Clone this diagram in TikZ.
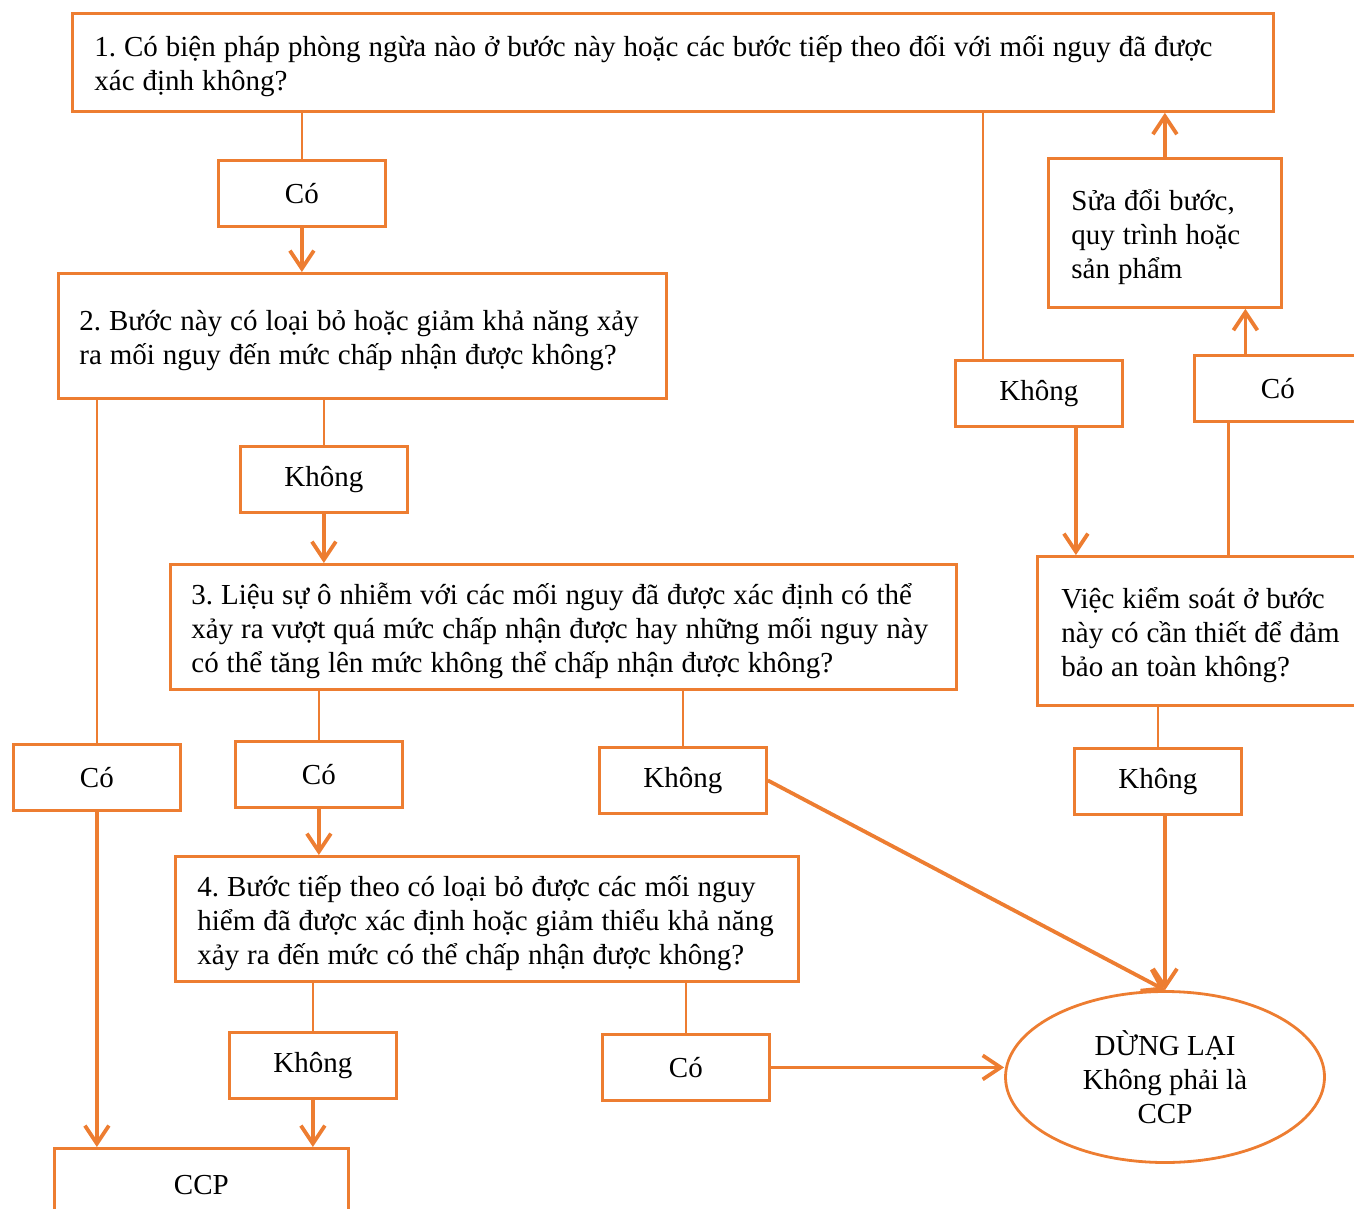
\documentclass[tikz,border=0pt]{standalone}
\usepackage{fontspec}
\setmainfont{Liberation Serif}
\usetikzlibrary{arrows.meta,shapes.geometric}
\definecolor{flow}{HTML}{ED7D31}

\begin{document}
\begin{tikzpicture}[x=0.5pt,y=-0.5pt,
  every node/.style={font=\fontsize{14.5}{17}\selectfont, text=black},
  qbox/.style={draw=flow, line width=1.4pt, anchor=north west, align=left, inner ysep=0pt,
               execute at begin node={\frenchspacing\spaceskip=0.275em plus 0.08em\relax}},
  two lines/.style={text height=11.5pt, text depth=16.9pt},
  three lines/.style={text height=11.5pt, text depth=33.9pt},
  lbl/.style={draw=flow, line width=1.4pt, anchor=north west, inner sep=0pt,
              minimum width=83.5pt, minimum height=33pt},
  link/.style={draw=flow, line width=1.2pt},
  arr/.style={draw=flow, line width=1.9pt, -{Straight Barb[length=9pt,width=12pt,line width=1.9pt]}}
  ]
\useasboundingbox (0,0) rectangle (1354,1209);
\clip (0,0) rectangle (1354,1209);

% question boxes
\node[qbox, two lines, minimum width=600.5pt, minimum height=49pt, inner xsep=11pt, text width=578.5pt] (b1) at (71,12)
  {\mbox{1. Có biện pháp phòng ngừa nào ở bước này hoặc các bước tiếp theo đối với mối nguy đã được}\\\mbox{xác định không?}};
\node[qbox, two lines, minimum width=304pt, minimum height=62.5pt, inner xsep=10.5pt, text width=283pt] (b2) at (57,272)
  {\mbox{2. Bước này có loại bỏ hoặc giảm khả năng xảy}\\\mbox{ra mối nguy đến mức chấp nhận được không?}};
\node[qbox, three lines, minimum width=393pt, minimum height=62.5pt, inner xsep=10.5pt, text width=372pt] (b3) at (169,563)
  {\mbox{3. Liệu sự ô nhiễm với các mối nguy đã được xác định có thể}\\\mbox{xảy ra vượt quá mức chấp nhận được hay những mối nguy này}\\\mbox{có thể tăng lên mức không thể chấp nhận được không?}};
\node[qbox, three lines, minimum width=311.5pt, minimum height=62.5pt, inner xsep=11pt, text width=289.5pt] (b4) at (174,855)
  {\mbox{4. Bước tiếp theo có loại bỏ được các mối nguy}\\\mbox{hiểm đã được xác định hoặc giảm thiểu khả năng}\\\mbox{xảy ra đến mức có thể chấp nhận được không?}};
\node[qbox, three lines, minimum width=116.5pt, minimum height=74.5pt, inner xsep=11.5pt, text width=93.5pt] (b5) at (1047,157)
  {\mbox{Sửa đổi bước,}\\\mbox{quy trình hoặc}\\\mbox{sản phẩm}};
\node[qbox, three lines, minimum width=163pt, minimum height=74.5pt, inner xsep=12pt, text width=139pt] (b6) at (1036,555)
  {\mbox{Việc kiểm soát ở bước}\\\mbox{này có cần thiết để đảm}\\\mbox{bảo an toàn không?}};

% answer boxes
\node[lbl] (c1) at (217,159) {Có};
\node[lbl] (k2) at (239,445) {Không};
\node[lbl] (c2) at (12,743) {Có};
\node[lbl] (c3) at (234,740) {Có};
\node[lbl] (k3) at (598,746) {Không};
\node[lbl] (k4b) at (228,1031) {Không};
\node[lbl] (c4) at (601,1033) {Có};
\node[lbl] (k4) at (954,359) {Không};
\node[lbl] (c6) at (1193,354) {Có};
\node[lbl] (k5) at (1073,747) {Không};

% outcomes
\node[lbl, minimum width=147pt, minimum height=36.5pt] (ccp) at (53,1147) {CCP};
\node[draw=flow, line width=1.4pt, ellipse, minimum width=159.5pt, minimum height=85.5pt,
      inner sep=0pt, align=center] (e) at (1165,1077) {DỪNG LẠI\\Không phải là\\CCP};

% left branch
\draw[link] (c1.north) -- (c1.north |- b1.south);
\draw[arr] (c1.south) -- (c1.south |- b2.north);
\draw[link] (k2.north) -- (k2.north |- b2.south);
\draw[arr] (k2.south) -- (k2.south |- b3.north);
\draw[link] (c2.north) -- (c2.north |- b2.south);
\draw[arr] (c2.south) -- (c2.south |- ccp.north);
\draw[link] (c3.north) -- (c3.north |- b3.south);
\draw[arr] (c3.south) -- (c3.south |- b4.north);
\draw[link] (k3.north) -- (k3.north |- b3.south);
\draw[arr] (k3.east) -- (e.north);
\draw[link] (k4b.north) -- (k4b.north |- b4.south);
\draw[arr] (k4b.south) -- (k4b.south |- ccp.north);
\draw[link] (c4.north) -- (c4.north |- b4.south);
\draw[arr] (c4.east) -- (c4.east -| e.west);

% right branch
\coordinate (k4t) at ([xshift=-28pt]k4.north);
\coordinate (k4d) at ([xshift=18.5pt]k4.south);
\coordinate (c6d) at ([xshift=-24.75pt]c6.south);
\coordinate (c6u) at ([xshift=-16.25pt]c6.north);
\draw[link] (k4t) -- (k4t |- b1.south);
\draw[arr] (k4d) -- (k4d |- b6.north);
\draw[link] (c6d) -- (c6d |- b6.north);
\draw[arr] (c6u) -- (c6u |- b5.south);
\draw[arr] (b5.north) -- (b5.north |- b1.south);
\draw[link] (k5.north) -- (k5.north |- b6.south);
\draw[arr] (k5.south -| e.north) -- (e.north);
\end{tikzpicture}
\end{document}
